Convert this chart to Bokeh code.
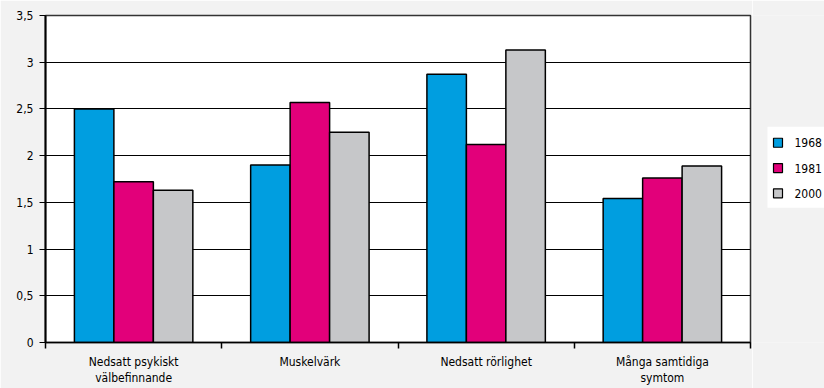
from bokeh.plotting import figure
from bokeh.models import ColumnDataSource, FixedTicker, Range1d
from bokeh.core.properties import value
from bokeh.layouts import row
from bokeh.embed import file_html
from bokeh.resources import INLINE

categories = ["Nedsatt psykiskt\nvälbefinnande", "Muskelvärk", "Nedsatt rörlighet", "Många samtidiga\nsymtom"]
years = ["1968", "1981", "2000"]
v1968 = [2.50, 1.90, 2.87, 1.54]
v1981 = [1.72, 2.57, 2.12, 1.76]
v2000 = [1.63, 2.25, 3.13, 1.89]
y_ticks = [0, 0.5, 1, 1.5, 2, 2.5, 3, 3.5]
y_labels = ["0", "0,5", "1", "1,5", "2", "2,5", "3", "3,5"]

colors = ["#009ee0", "#e2007a", "#c6c7c9"]
series = [v1968, v1981, v2000]
FONT = "DejaVu Sans Condensed"
BG = "#f2f2f2"

p = figure(width=752, height=388, output_backend="svg", toolbar_location=None,
           x_range=Range1d(0, 4), y_range=Range1d(0, 3.5),
           min_border_left=45, min_border_right=2, min_border_top=15, min_border_bottom=43)
p.border_fill_color = BG
p.background_fill_color = "white"
p.outline_line_color = "#333333"
p.outline_line_width = 1.5

bw = 0.224
for i, (yr, vals) in enumerate(zip(years, series)):
    xs = [k + 0.5 + (i - 1) * bw for k in range(len(categories))]
    src = ColumnDataSource(dict(x=xs, top=vals))
    p.vbar(x="x", top="top", width=bw, bottom=0, source=src,
           fill_color=colors[i], line_color="black", line_width=1.5)

# axes
p.yaxis.ticker = FixedTicker(ticks=y_ticks)
p.yaxis.major_label_overrides = {t: l for t, l in zip(y_ticks, y_labels)}
p.yaxis.major_tick_in = 0
p.yaxis.major_tick_out = 6
p.yaxis.minor_tick_line_color = None
p.yaxis.axis_line_color = "black"
p.yaxis.axis_line_width = 2
p.yaxis.major_label_text_font = FONT
p.yaxis.major_label_text_font_size = "12px"
p.yaxis.major_label_text_color = "black"
p.yaxis.major_label_standoff = 6

centers = [k + 0.5 for k in range(len(categories))]
p.xaxis.ticker = FixedTicker(ticks=centers, minor_ticks=list(range(len(categories) + 1)))
p.xaxis.major_label_overrides = {c: l for c, l in zip(centers, categories)}
p.xaxis.major_tick_line_color = None
p.xaxis.minor_tick_in = 0
p.xaxis.minor_tick_out = 6
p.xaxis.minor_tick_line_color = "black"
p.xaxis.minor_tick_line_width = 1.5
p.xaxis.axis_line_color = "black"
p.xaxis.axis_line_width = 1.5
p.xaxis.major_label_text_font = FONT
p.xaxis.major_label_text_font_size = "12px"
p.xaxis.major_label_text_color = "black"
p.xaxis.major_label_standoff = 6

p.xgrid.grid_line_color = None
p.ygrid.ticker = FixedTicker(ticks=y_ticks)
p.ygrid.grid_line_color = "black"
p.ygrid.grid_line_width = 1.2

# legend panel (pixel-like coordinates, y downwards)
p2 = figure(width=72, height=388, output_backend="svg", toolbar_location=None,
            x_range=Range1d(0, 72), y_range=Range1d(388, 0),
            min_border=0, x_axis_type=None, y_axis_type=None)
p2.border_fill_color = BG
p2.background_fill_color = BG
p2.outline_line_color = None
p2.xgrid.grid_line_color = None
p2.ygrid.grid_line_color = None

p2.quad(left=15, right=72, top=132, bottom=228, fill_color="white", line_color=None)
ly = [151 + 30 * i for i in range(len(years))]
p2.scatter(x=[25.5] * len(years), y=ly, marker="square", size=9,
           fill_color=colors, line_color="black", line_width=1.2)
p2.text(x=[42] * len(years), y=ly, text=years, text_baseline="middle", text_align="left",
        text_font=value(FONT), text_font_size="12px", text_color="black")

open("out.html", "w").write(file_html(row(p, p2), INLINE))
